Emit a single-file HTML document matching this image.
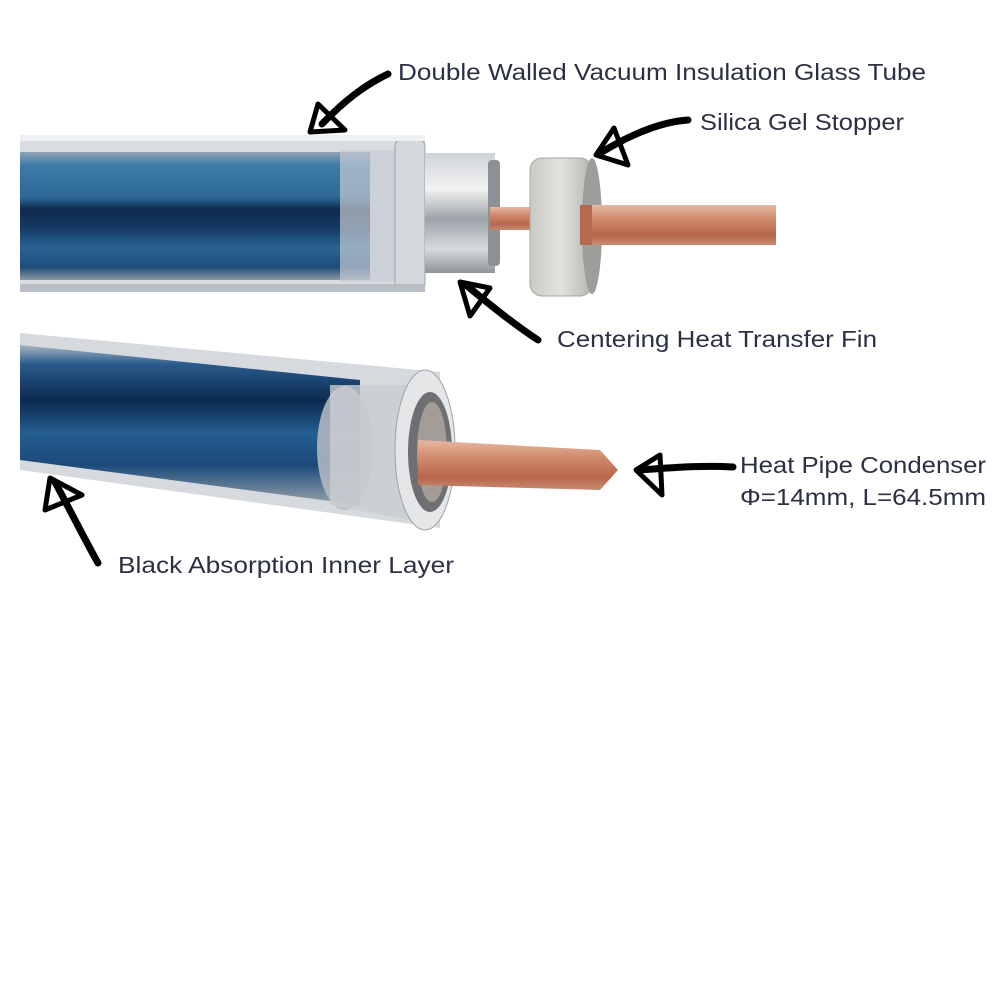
<!DOCTYPE html>
<html><head><meta charset="utf-8"><style>
html,body{margin:0;padding:0;background:#fff;}
svg{display:block}
text{font-family:"Liberation Sans",sans-serif;fill:#2b3044;font-size:23px;}
</style></head><body>
<svg width="1000" height="1000" viewBox="0 0 1000 1000">
<defs>
<linearGradient id="blue" x1="0" y1="0" x2="0" y2="1">
<stop offset="0" stop-color="#8fa3b5"/><stop offset="0.1" stop-color="#3e7ba8"/>
<stop offset="0.35" stop-color="#2d6a98"/><stop offset="0.45" stop-color="#0e2a4c"/>
<stop offset="0.6" stop-color="#163b66"/><stop offset="0.75" stop-color="#2a6494"/>
<stop offset="0.9" stop-color="#1e4c7a"/><stop offset="1" stop-color="#8d98a3"/></linearGradient>
<linearGradient id="blue2" x1="0" y1="0" x2="0" y2="1">
<stop offset="0" stop-color="#a9b5c0"/><stop offset="0.12" stop-color="#2a5b8c"/>
<stop offset="0.35" stop-color="#0d2a50"/><stop offset="0.55" stop-color="#245e90"/>
<stop offset="0.75" stop-color="#1b4a7a"/><stop offset="1" stop-color="#9aa3ac"/></linearGradient>
<linearGradient id="cu" x1="0" y1="0" x2="0" y2="1">
<stop offset="0" stop-color="#e6b8a2"/><stop offset="0.35" stop-color="#d08a6c"/>
<stop offset="0.75" stop-color="#b7664a"/><stop offset="1" stop-color="#c98b73"/></linearGradient>
<linearGradient id="metal" x1="0" y1="0" x2="0" y2="1">
<stop offset="0" stop-color="#cfd3d8"/><stop offset="0.3" stop-color="#f2f2f2"/>
<stop offset="0.55" stop-color="#9ea3aa"/><stop offset="0.8" stop-color="#d8dbdf"/><stop offset="1" stop-color="#8e9399"/></linearGradient>
<linearGradient id="stop" x1="0" y1="0" x2="1" y2="0">
<stop offset="0" stop-color="#c9c9c6"/><stop offset="0.5" stop-color="#e2e2df"/><stop offset="1" stop-color="#b5b5b2"/></linearGradient>
</defs>

<!-- top tube -->
<rect x="20" y="135" width="405" height="157" fill="#d9dde2"/>
<rect x="20" y="152" width="350" height="128" fill="url(#blue)"/>
<rect x="340" y="150" width="60" height="132" fill="#c6ccd3" opacity="0.7"/>
<rect x="395" y="140" width="30" height="150" rx="6" fill="#d5d8dc" stroke="#9ca1a7"/>
<rect x="20" y="135" width="405" height="6" fill="#eef0f2"/>
<rect x="20" y="284" width="405" height="8" fill="#b9bec4"/>
<!-- fin -->
<rect x="425" y="153" width="70" height="120" fill="url(#metal)"/>
<rect x="488" y="160" width="12" height="106" rx="4" fill="#8c9198"/>
<rect x="490" y="207" width="45" height="23" fill="url(#cu)"/>
<!-- stopper -->
<rect x="530" y="158" width="62" height="138" rx="12" fill="url(#stop)" stroke="#a6a6a3"/>
<ellipse cx="592" cy="226" rx="10" ry="68" fill="#9d9d9a"/>
<rect x="580" y="205" width="196" height="40" fill="url(#cu)"/>
<rect x="580" y="205" width="12" height="40" fill="#b46a4f"/>

<!-- bottom tube -->
<polygon points="20,333 440,372 440,528 20,470" fill="#d6dade"/>
<polygon points="20,345 360,380 360,505 20,460" fill="url(#blue2)"/>
<ellipse cx="345" cy="448" rx="28" ry="62" fill="#b7bcc2" opacity="0.85"/>
<polygon points="330,385 410,385 410,520 330,505" fill="#c9cdd2" opacity="0.8"/>
<ellipse cx="425" cy="450" rx="30" ry="80" fill="#e4e6e8" stroke="#9ea3a8"/>
<ellipse cx="430" cy="452" rx="22" ry="60" fill="#6d6f72"/>
<ellipse cx="432" cy="452" rx="15" ry="50" fill="#a49c97"/>
<polygon points="418,440 600,450 618,470 600,490 418,485" fill="url(#cu)"/>

<!-- arrows -->
<g stroke="#000" stroke-width="7" fill="none" stroke-linecap="round" stroke-linejoin="round">
<path d="M388,74 C365,85 345,100 322,124"/>
<path d="M310,132 L318,104 L345,130 Z" stroke-width="5"/>
<path d="M688,120 C660,122 630,135 602,152"/>
<path d="M596,155 L614,128 L628,165 Z" stroke-width="5"/>
<path d="M538,340 C515,325 490,305 466,285"/>
<path d="M460,282 L490,288 L470,316 Z" stroke-width="5"/>
<path d="M733,467 C700,465 670,468 638,470"/>
<path d="M636,470 L660,455 L662,495 Z" stroke-width="5"/>
<path d="M98,563 C85,540 70,510 55,482"/>
<path d="M50,478 L45,510 L82,495 Z" stroke-width="5"/>
</g>

<!-- labels -->
<text x="398" y="80" textLength="528" lengthAdjust="spacingAndGlyphs">Double Walled Vacuum Insulation Glass Tube</text>
<text x="700" y="130" textLength="204" lengthAdjust="spacingAndGlyphs">Silica Gel Stopper</text>
<text x="557" y="347" textLength="320" lengthAdjust="spacingAndGlyphs">Centering Heat Transfer Fin</text>
<text x="740" y="473" textLength="246" lengthAdjust="spacingAndGlyphs">Heat Pipe Condenser</text>
<text x="740" y="505" textLength="246" lengthAdjust="spacingAndGlyphs">Φ=14mm, L=64.5mm</text>
<text x="118" y="573" textLength="336" lengthAdjust="spacingAndGlyphs">Black Absorption Inner Layer</text>
</svg>
</body></html>
